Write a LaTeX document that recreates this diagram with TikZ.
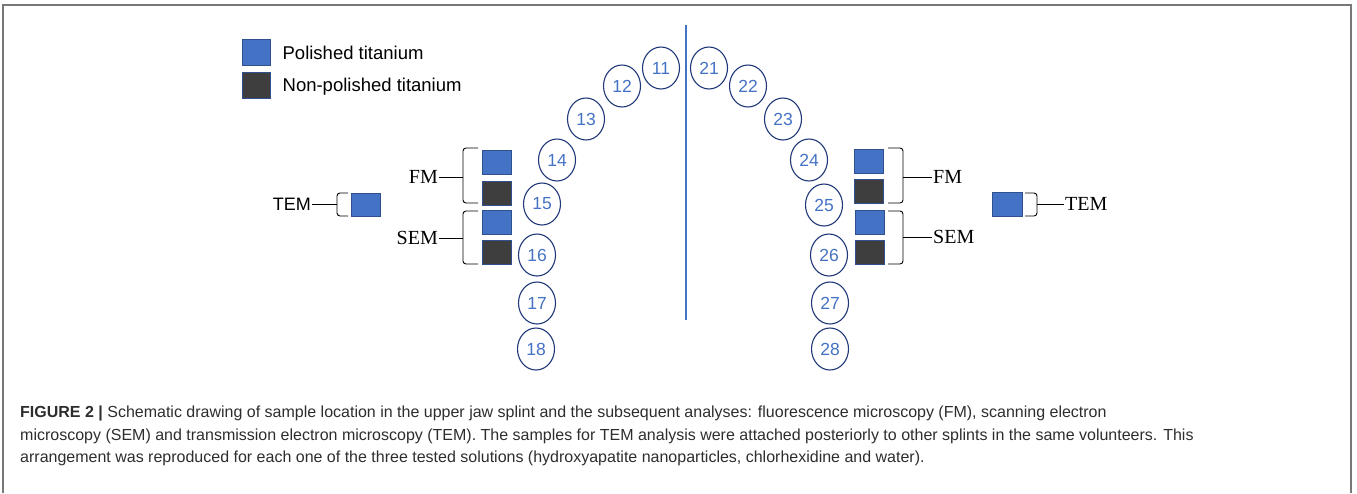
\documentclass[tikz,border=0pt]{standalone}
\usepackage{fontspec}
\setmainfont{Liberation Serif}
\setsansfont{Liberation Sans}
\usetikzlibrary{shapes.geometric,positioning}

\definecolor{ptblue}{RGB}{68,114,196}
\definecolor{ptedge}{RGB}{47,82,143}
\definecolor{npgray}{RGB}{62,62,62}
\definecolor{toothline}{RGB}{32,56,120}
\definecolor{captext}{RGB}{45,45,45}
\definecolor{framegray}{RGB}{120,120,120}

\tikzset{
    tooth/.style={ellipse, draw=toothline, line width=1.1pt, minimum width=37pt,
        minimum height=42pt, inner sep=0pt, text=ptblue,
        font=\sffamily\fontsize{17.5}{17.5}\selectfont},
    pol/.style={draw=ptedge, fill=ptblue, line width=0.9pt, minimum width=29pt,
        minimum height=24pt, inner sep=0pt},
    nonpol/.style={pol, fill=npgray},
    brk/.style={line width=0.9pt, rounded corners=3pt},
    anlabel/.style={inner sep=1pt, font=\fontsize{20}{20}\selectfont},
    keytext/.style={inner sep=0pt, text height=13pt, text depth=0pt,
        font=\sffamily\fontsize{18.5}{18.5}\selectfont},
    capline/.style={anchor=base west, inner sep=0pt, text=captext,
        font=\sffamily\fontsize{16}{16}\selectfont}
}

\begin{document}
\begin{tikzpicture}[x=1pt, y=-1pt]
        \useasboundingbox (0,0) rectangle (1357,493);

        % --- 外枠 ---
        \draw[framegray, line width=1.5pt] (3,493) -- (3,5) -- (1351,5) -- (1351,493);

        % --- 凡例 ---
        \node[pol, minimum width=28pt, minimum height=26pt] (keyP) at (256.5,52.5) {};
        \node[nonpol, minimum width=28pt, minimum height=26pt] (keyN) at (256.5,85) {};
        \node[keytext, right=11.5pt of keyP] (keyPt) {Polished titanium};
        \node[keytext, right=11.5pt of keyN] (keyNt) {Non-polished titanium};

        % --- 正中線 ---
        \draw[ptblue, line width=1.3pt] (686,25) -- (686,320);

        % --- 歯の番号 ---
        \foreach \n/\x/\y in {11/661/68, 12/622/86, 13/586/119, 14/557/160,
                              15/542/204, 16/537/255, 17/537/303, 18/536/349,
                              21/709/68, 22/748/86, 23/783/119, 24/809/160,
                              25/824/205, 26/829/255, 27/830/303, 28/830/349} {
            \node[tooth] (t\n) at (\x,\y) {\n};
        }

        % --- 左側の試料 (FM, SEM) ---
        \node[pol] (lfmP) at (496.5,162) {};
        \node[nonpol] (lfmN) at (496.5,193) {};
        \node[pol] (lsemP) at (496.5,222.5) {};
        \node[nonpol] (lsemN) at (496.5,252.5) {};

        \coordinate (lfmB) at (463,177);
        \coordinate (lsemB) at (463,238);
        \draw[brk] (478,148) -| (lfmB) |- (478,203);
        \draw[brk] (478,211) -| (lsemB) |- (478,264);
        \node[anlabel, left=24pt of lfmB] (lfmL) {FM};
        \node[anlabel, left=24pt of lsemB] (lsemL) {SEM};
        \draw[brk] (lfmL) -- (lfmB);
        \draw[brk] (lsemL) -- (lsemB);

        % 左側の TEM
        \node[pol, minimum height=23pt] (ltemP) at (366,204.5) {};
        \coordinate (ltemB) at (337,204);
        \draw[brk] (348,193) -| (ltemB) |- (348,216);
        \node[anlabel, font=\sffamily\fontsize{18}{18}\selectfont, left=25pt of ltemB] (ltemL) {TEM};
        \draw[brk] (ltemL) -- (ltemB);

        % --- 右側の試料 (FM, SEM) ---
        \node[pol] (rfmP) at (869,161.5) {};
        \node[nonpol] (rfmN) at (869,191) {};
        \node[pol] (rsemP) at (869.5,222) {};
        \node[nonpol] (rsemN) at (869.5,252.5) {};

        \coordinate (rfmB) at (903,177);
        \coordinate (rsemB) at (903,237);
        \draw[brk] (888,148) -| (rfmB) |- (888,203);
        \draw[brk] (888,211) -| (rsemB) |- (888,264);
        \node[anlabel, right=29pt of rfmB] (rfmL) {FM};
        \node[anlabel, right=29pt of rsemB] (rsemL) {SEM};
        \draw[brk] (rfmB) -- (rfmL);
        \draw[brk] (rsemB) -- (rsemL);

        % 右側の TEM
        \node[pol, minimum width=30pt] (rtemP) at (1007,204) {};
        \coordinate (rtemB) at (1037,204);
        \draw[brk] (1025,193) -| (rtemB) |- (1025,216);
        \node[anlabel, right=27pt of rtemB] (rtemL) {TEM};
        \draw[brk] (rtemB) -- (rtemL);

        % --- キャプション ---
        \node[capline] (cap1) at (20,417) {\textbf{FIGURE 2 |} Schematic drawing of sample location in the upper jaw splint and the subsequent analyses: fluorescence microscopy (FM), scanning electron};
        \node[capline] (cap2) at (20,440) {microscopy (SEM) and transmission electron microscopy (TEM). The samples for TEM analysis were attached posteriorly to other splints in the same volunteers. This};
        \node[capline] (cap3) at (20,462) {arrangement was reproduced for each one of the three tested solutions (hydroxyapatite nanoparticles, chlorhexidine and water).};

    \end{tikzpicture}
\end{document}
